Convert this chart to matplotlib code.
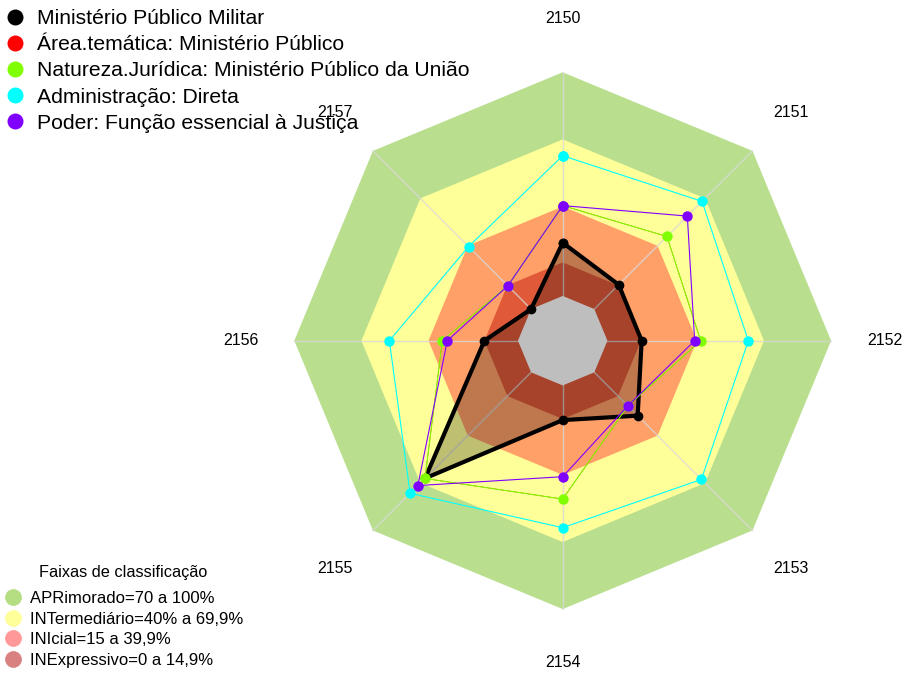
import matplotlib
matplotlib.use("Agg")
import matplotlib.pyplot as plt
import numpy as np
from matplotlib.lines import Line2D

plt.rcParams['font.family'] = ['Liberation Sans', 'DejaVu Sans']

# ---------------- data ----------------
axis_labels = ['2150', '2151', '2152', '2153', '2154', '2155', '2156', '2157']

series_names = [
    'Ministério Público Militar',
    'Área.temática: Ministério Público',
    'Natureza.Jurídica: Ministério Público da União',
    'Administração: Direta',
    'Poder: Função essencial à Justiça',
]
series_colors = ['#000000', '#FF0000', '#7FFF00', '#00FFFF', '#8000FF']

mpm_values = [23.8, 15.4, 15.3, 27.4, 15.5, 67.0, 15.0, 0.0]
area_values = [40.4, 45.9, 41.7, 21.2, 50.8, 67.1, 33.8, 14.7]
natureza_values = [40.4, 45.9, 41.7, 21.2, 50.8, 67.1, 33.8, 14.7]
admin_values = [62.7, 68.1, 63.0, 67.7, 63.6, 76.5, 57.5, 39.5]
poder_values = [40.4, 58.8, 39.0, 21.2, 40.8, 71.6, 31.6, 14.7]

band_levels = [100, 70, 40, 15]
band_colors = ['#B9DF8E', '#FFFF99', '#FFA068', '#E05A3A']
band_legend_labels = ['APRimorado=70 a 100%', 'INTermediário=40% a 69,9%',
                      'INIcial=15 a 39,9%', 'INExpressivo=0 a 14,9%']
band_legend_colors = ['#B5DE82', '#FFFF99', '#FF9999', '#D98080']
band_legend_title = 'Faixas de classificação'

# ---------------- figure ----------------
W, H = 905, 673
fig = plt.figure(figsize=(W / 100, H / 100), dpi=100)
cx, cy, R = 562.7, H - 340.7, 268.4
ax = fig.add_axes([(cx - R) / W, (cy - R) / H, 2 * R / W, 2 * R / H], projection='polar')
ax.set_theta_zero_location('N')
ax.set_theta_direction(-1)
ax.set_ylim(0, 100)
ax.set_rorigin(-20)
ax.set_axis_off()

n = len(axis_labels)
theta = np.arange(n) * 2 * np.pi / n
theta_c = np.append(theta, theta[0])

def close(v):
    v = list(v)
    return v + v[:1]

# bands
for lvl, col in zip(band_levels, band_colors):
    ax.fill(theta_c, [lvl] * (n + 1), color=col, lw=0, zorder=1, clip_on=False)

# radial axis lines
for t in theta:
    ax.plot([t, t], [-20, 100], color='#D8D8D8', lw=1, zorder=2, alpha=0.8,
            clip_on=False)

# filled main series
ax.fill(theta_c, close(mpm_values), color='black', alpha=0.25, lw=0, zorder=3,
        clip_on=False)

# gray center
ax.fill(theta_c, [0] * (n + 1), color='#BEBEBE', lw=0, zorder=4, clip_on=False)

# series lines
all_values = [mpm_values, area_values, natureza_values, admin_values, poder_values]
line_widths = [3.0, 0.4, 0.8, 0.8, 0.8]
marker_sizes = [7, 6, 7.5, 7.5, 7.5]
for i, (vals, col) in enumerate(zip(all_values, series_colors)):
    ax.plot(theta_c, close(vals), color=col, lw=line_widths[i], marker='o',
            ms=marker_sizes[i], markeredgewidth=0, zorder=5 + i, clip_on=False)

# axis labels
for t, lab in zip(theta, axis_labels):
    ax.text(t, 124, lab, ha='center', va='center', fontsize=11.5, clip_on=False)

# legends
h1 = [Line2D([], [], ls='', marker='o', ms=11.5, color=c, markeredgewidth=0)
      for c in series_colors]
leg1 = fig.legend(h1, series_names, loc='upper left',
                  bbox_to_anchor=(0.0, 1 - 7 / H),
                  frameon=False, fontsize=15.2, handletextpad=0.42,
                  labelspacing=0.34, borderpad=0.0, borderaxespad=0.1,
                  handlelength=1.23)

h2 = [Line2D([], [], ls='', marker='o', ms=11.5, markerfacecolor=c,
             markeredgecolor=c, markeredgewidth=0.5) for c in band_legend_colors]
leg2 = fig.legend(h2, band_legend_labels, loc='lower left',
                  bbox_to_anchor=(0.0, 2 / H),
                  frameon=False, fontsize=12, title=band_legend_title,
                  title_fontsize=11.7, handletextpad=0.44, labelspacing=0.33,
                  borderpad=0.1, borderaxespad=0.1, handlelength=1.15)
leg2._legend_box.sep = 8

fig.savefig('out.png', dpi=100)
